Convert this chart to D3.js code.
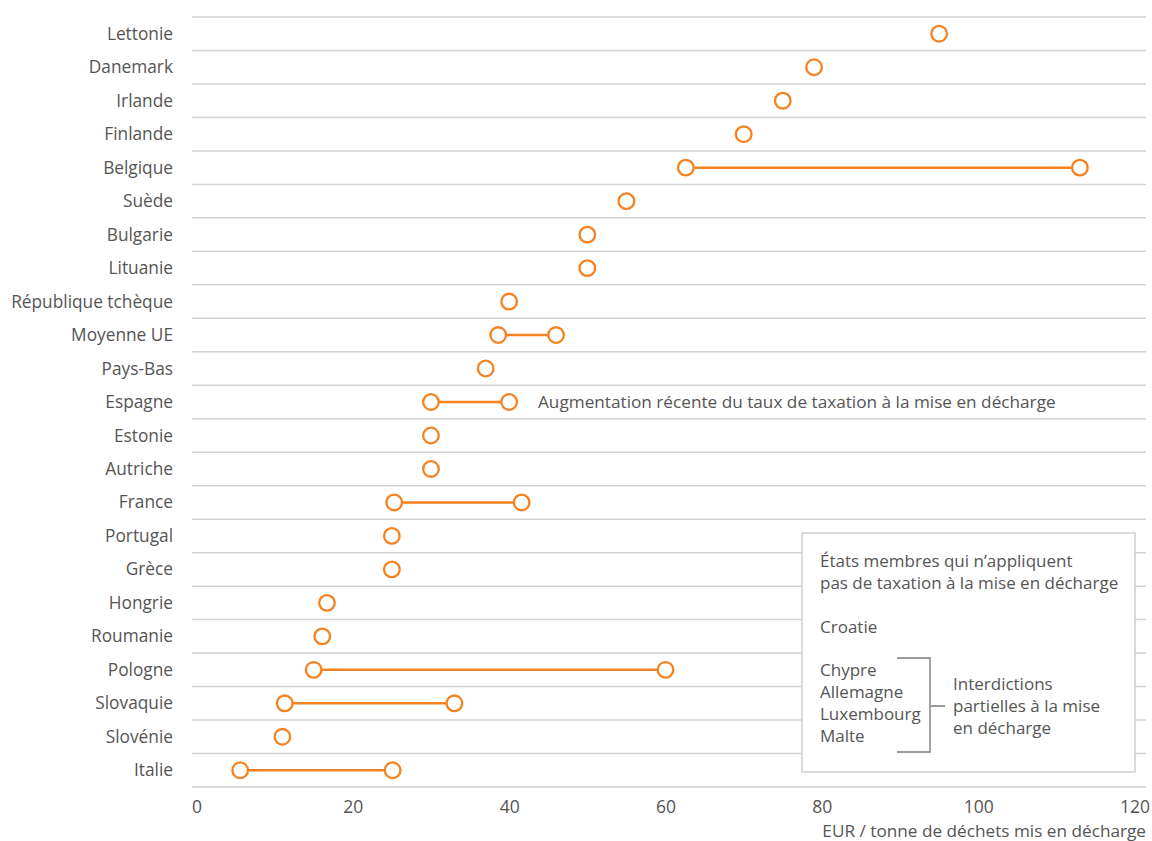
<!DOCTYPE html>
<html>
<head>
<meta charset="utf-8">
<script src="https://cdn.jsdelivr.net/npm/d3@7"></script>
<style>
  body { margin: 0; background: #fff; }
  svg text { font-family: "Open Sans", sans-serif; fill: #555; }
</style>
</head>
<body>
<svg id="chart" width="1152" height="841"></svg>
<script>
(function () {

    var countries = ['Lettonie', 'Danemark', 'Irlande', 'Finlande', 'Belgique', 'Suède',
        'Bulgarie', 'Lituanie', 'République tchèque', 'Moyenne UE', 'Pays-Bas', 'Espagne',
        'Estonie', 'Autriche', 'France', 'Portugal', 'Grèce', 'Hongrie', 'Roumanie',
        'Pologne', 'Slovaquie', 'Slovénie', 'Italie'];
    // low end of the tax rate (EUR / tonne)
    var rateLow = [95, 79, 75, 70, 62.6, 55, 50, 50, 40, 38.6, 37, 30, 30, 30, 25.3, 25, 25,
        16.7, 16.1, 15, 11.3, 11, 5.6];
    // high end, null where there is a single rate
    var rateHigh = [null, null, null, null, 113, null, null, null, null, 46, null, 40, null, null,
        41.6, null, null, null, null, 60, 33, null, 25.1];
    var xTicks = [0, 20, 40, 60, 80, 100, 120];

    var noTaxTitle = ['États membres qui n’appliquent', 'pas de taxation à la mise en décharge'];
    var noTax = ['Croatie'];
    var partialBan = ['Chypre', 'Allemagne', 'Luxembourg', 'Malte'];
    var partialBanNote = ['Interdictions', 'partielles à la mise', 'en décharge'];

    var orange = '#f5821f';
    var gridColor = '#d3d3d3';

    var svg = d3.select('#chart');

    var x = d3.scaleLinear().domain([0, 120]).range([196.4, 1134.6]);
    var y = d3.scaleBand().domain(countries).range([17, 787]);
    var half = y.bandwidth() / 2;

    // horizontal separators between rows
    var edges = countries.map(function (c) { return y(c); }).concat([787]);
    svg.append('g').selectAll('line')
        .data(edges)
        .enter().append('line')
            .attr('x1', 192).attr('x2', 1146)
            .attr('y1', function (d) { return d; })
            .attr('y2', function (d) { return d; })
            .attr('stroke', gridColor)
            .attr('stroke-width', 1.5);

    // country labels
    svg.append('g').selectAll('text')
        .data(countries)
        .enter().append('text')
            .attr('x', 173)
            .attr('y', function (d) { return y(d) + half; })
            .attr('dy', '0.35em')
            .attr('text-anchor', 'end')
            .style('font-size', '17.3px')
            .text(function (d) { return d; });

    var rows = countries.map(function (c, i) {
        return { name: c, low: rateLow[i], high: rateHigh[i] };
    });

    // connecting lines
    svg.append('g').selectAll('line')
        .data(rows.filter(function (r) { return r.high !== null; }))
        .enter().append('line')
            .attr('x1', function (d) { return x(d.low); })
            .attr('x2', function (d) { return x(d.high); })
            .attr('y1', function (d) { return y(d.name) + half; })
            .attr('y2', function (d) { return y(d.name) + half; })
            .attr('stroke', orange)
            .attr('stroke-width', 2.5);

    // dots
    var points = [];
    rows.forEach(function (r) {
        points.push({ name: r.name, v: r.low });
        if (r.high !== null) { points.push({ name: r.name, v: r.high }); }
    });
    svg.append('g').selectAll('circle')
        .data(points)
        .enter().append('circle')
            .attr('cx', function (d) { return x(d.v); })
            .attr('cy', function (d) { return y(d.name) + half; })
            .attr('r', 7.8)
            .attr('fill', '#fff')
            .attr('stroke', orange)
            .attr('stroke-width', 2.3);

    // annotation next to Espagne
    svg.append('text')
        .attr('x', 538)
        .attr('y', y('Espagne') + half)
        .attr('dy', '0.35em')
        .style('font-size', '17.2px')
        .text('Augmentation récente du taux de taxation à la mise en décharge');

    // x axis
    var axis = svg.append('g')
        .attr('transform', 'translate(0,801)')
        .call(d3.axisBottom(x).tickValues(xTicks).tickSize(0).tickPadding(0));
    axis.select('.domain').remove();
    axis.selectAll('text')
        .attr('dy', '0.71em')
        .style('font-size', '17.5px')
        .style('font-family', '"Open Sans", sans-serif')
        .attr('fill', '#555');

    svg.append('text')
        .attr('x', 1146)
        .attr('y', 837)
        .attr('text-anchor', 'end')
        .style('font-size', '17.2px')
        .text('EUR / tonne de déchets mis en décharge');

    // legend box
    var box = svg.append('g');
    box.append('rect')
        .attr('x', 802).attr('y', 533)
        .attr('width', 333).attr('height', 239)
        .attr('fill', '#fff')
        .attr('stroke', '#c8c8c8')
        .attr('stroke-width', 1.3);

    var lines = noTaxTitle.map(function (t, i) { return { t: t, y: 561 + i * 22 }; })
        .concat(noTax.map(function (t, i) { return { t: t, y: 627 + i * 22 }; }))
        .concat(partialBan.map(function (t, i) { return { t: t, y: 670 + i * 22 }; }))
        .concat(partialBanNote.map(function (t, i) { return { t: t, y: 684 + i * 22, x: 953 }; }));

    box.selectAll('text')
        .data(lines)
        .enter().append('text')
            .attr('x', function (d) { return d.x || 820; })
            .attr('y', function (d) { return d.y; })
            .attr('dy', '0.35em')
            .style('font-size', '17px')
            .text(function (d) { return d.t; });

    // bracket
    box.append('path')
        .attr('d', 'M897,658H930V752H897M930,706H945')
        .attr('fill', 'none')
        .attr('stroke', '#9a9a9a')
        .attr('stroke-width', 1.8);

})();
</script>
</body>
</html>
